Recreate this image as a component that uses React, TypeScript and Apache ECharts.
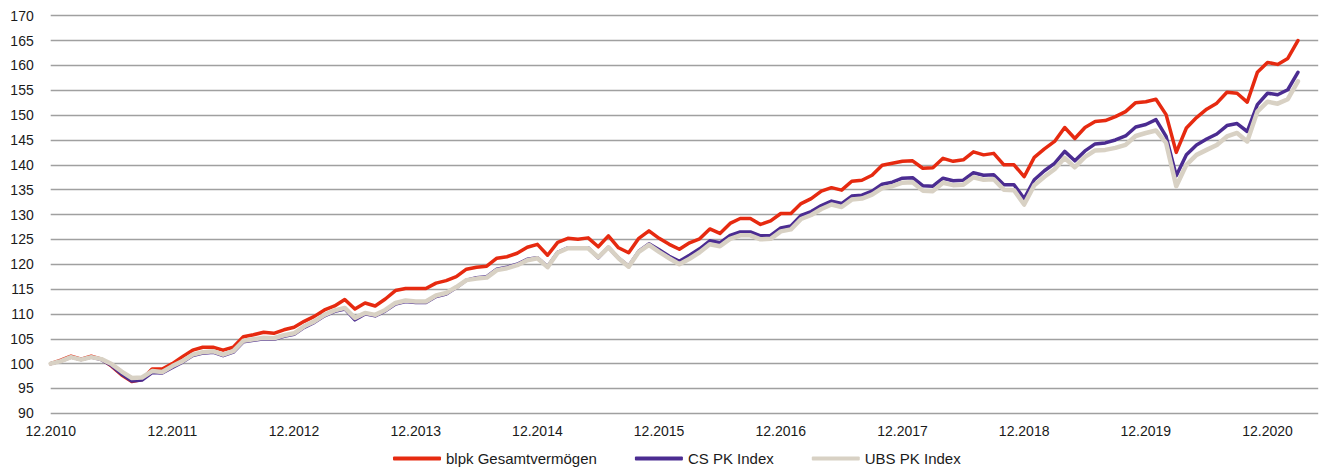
import React, { useEffect, useRef } from "react";
import * as echarts from "echarts";

const seriesNames = ["blpk Gesamtvermögen", "CS PK Index", "UBS PK Index"];
const seriesColors = ["#E62A10", "#4B2C91", "#D8D1C4"];

const blpk = [
  100, 100.7, 101.5, 100.9, 101.5, 100.9, 99.5, 97.7, 96.4, 96.8, 98.9, 98.9,
  100.0, 101.4, 102.7, 103.3, 103.3, 102.7, 103.3, 105.4, 105.8, 106.3, 106.1, 106.8,
  107.3, 108.5, 109.5, 110.8, 111.6, 112.9, 111.0, 112.2, 111.6, 113.0, 114.7, 115.1,
  115.1, 115.1, 116.2, 116.7, 117.5, 119.0, 119.4, 119.6, 121.2, 121.5, 122.2, 123.4,
  124.0, 121.8, 124.4, 125.2, 125.0, 125.3, 123.5, 125.7, 123.3, 122.3, 125.2, 126.7,
  125.2, 124.0, 123.0, 124.3, 125.1, 127.1, 126.2, 128.2, 129.2, 129.2, 128.0, 128.7,
  130.2, 130.2, 132.2, 133.2, 134.7, 135.4, 134.9, 136.7, 136.9, 137.9, 139.9, 140.3,
  140.7, 140.8, 139.3, 139.4, 141.3, 140.7, 141.0, 142.6, 142.0, 142.3, 140.0, 140.0,
  137.6, 141.5, 143.2, 144.7, 147.5, 145.3, 147.5, 148.7, 148.9, 149.7, 150.7, 152.5,
  152.7, 153.2, 150.1, 142.5, 147.4, 149.5, 151.2, 152.4, 154.6, 154.4, 152.6, 158.6,
  160.6, 160.2, 161.4, 165.0,
];

const csPk = [
  100, 100.5, 101.3, 100.8, 101.3, 100.8, 99.6, 97.9, 96.5, 96.7, 98.2, 98.1,
  99.2, 100.3, 101.6, 102.1, 102.3, 101.6, 102.3, 104.4, 104.7, 105.0, 104.9, 105.5,
  105.9, 107.3, 108.3, 109.6, 110.5, 111.0, 108.8, 110.0, 109.6, 110.6, 112.0, 112.5,
  112.3, 112.3, 113.5, 114.0, 115.3, 116.8, 117.3, 117.5, 119.0, 119.4, 120.0, 121.0,
  121.3, 119.5, 122.4, 123.3, 123.3, 123.3, 121.3, 123.4, 121.2, 119.6, 122.6, 124.1,
  122.9, 121.6, 120.6, 121.8, 123.1, 124.7, 124.3, 125.8, 126.5, 126.5, 125.7, 125.8,
  127.3, 127.7, 129.8, 130.6, 131.8, 132.7, 132.2, 133.7, 133.9, 134.7, 136.1, 136.5,
  137.3, 137.4, 135.8, 135.7, 137.3, 136.8, 136.9, 138.4, 137.9, 138.0, 136.0, 136.0,
  133.2, 137.0, 138.8, 140.3, 142.7, 140.8, 142.8, 144.2, 144.4, 145.0, 145.8, 147.6,
  148.1, 149.1, 145.7, 137.8, 142.0, 144.0, 145.2, 146.2, 147.9, 148.3, 146.7, 152.1,
  154.4, 154.1, 155.1, 158.6,
];

const ubsPk = [
  100, 100.5, 101.3, 100.8, 101.3, 100.9, 99.9, 98.4, 97.1, 97.2, 98.5, 98.3,
  99.5, 100.5, 101.8, 102.3, 102.5, 101.8, 102.5, 104.6, 104.9, 105.2, 105.1, 105.7,
  106.1, 107.5, 108.5, 109.8, 110.7, 111.2, 109.2, 110.2, 109.8, 110.8, 112.2, 112.7,
  112.5, 112.5, 113.7, 114.2, 115.4, 116.8, 117.1, 117.3, 118.8, 119.2, 119.8, 120.8,
  121.2, 119.4, 122.3, 123.2, 123.2, 123.2, 121.4, 123.4, 121.2, 119.5, 122.5, 123.9,
  122.5, 121.2, 120.0, 121.1, 122.4, 124.0, 123.6, 125.1, 125.8, 125.8, 125.0, 125.1,
  126.6, 127.0, 129.1, 129.9, 131.1, 132.0, 131.5, 133.0, 133.2, 134.0, 135.3, 135.7,
  136.4, 136.5, 134.8, 134.7, 136.4, 135.9, 136.0, 137.5, 137.0, 137.1, 135.0, 134.9,
  132.0, 135.9, 137.6, 139.1, 141.4, 139.5, 141.6, 142.9, 143.0, 143.4, 144.0, 145.8,
  146.4, 146.9, 144.4, 135.7, 140.0, 142.0, 143.0, 144.0, 145.7, 146.4, 144.7, 150.7,
  152.7, 152.3, 153.2, 156.8,
];

// Monthly categories from 12.2010 to 05.2021 (last two months empty, axis room)
const startYear = 2010;
const startMonth = 12;
const categoryCount = 126;
const months: string[] = [];
for (let k = 0; k < categoryCount; k++) {
  const m0 = startMonth - 1 + k;
  const y = startYear + Math.floor(m0 / 12);
  const m = (m0 % 12) + 1;
  months.push((m < 10 ? "0" : "") + m + "." + y);
}

const yMin = 90;
const yMax = 170;
const yStep = 5;

const FONT = "'Liberation Sans', Arial, sans-serif";

export default function App() {
  const ref = useRef<HTMLDivElement>(null);
  useEffect(() => {
    if (!ref.current) return;
    const chart = echarts.init(ref.current, null, { renderer: "svg" });
    const data = [blpk, csPk, ubsPk];
    const widths = [3.5, 3.5, 4.5];
    chart.setOption({
      animation: false,
      textStyle: { fontFamily: FONT },
      grid: { left: 50.7, top: 15.7, width: 1267.5, height: 397.6, containLabel: false },
      legend: {
        left: 393,
        top: 451,
        padding: 0,
        itemWidth: 48,
        itemHeight: 4,
        itemGap: 38,
        icon: "roundRect",
        textStyle: { fontFamily: FONT, fontSize: 15, color: "#1a1a1a" },
        data: seriesNames,
      },
      xAxis: {
        type: "category",
        data: months,
        boundaryGap: false,
        axisLine: { show: false },
        axisTick: { show: false },
        splitLine: { show: false },
        axisLabel: {
          interval: 11,
          margin: 11,
          fontFamily: FONT,
          fontSize: 14,
          color: "#1a1a1a",
        },
      },
      yAxis: {
        type: "value",
        min: yMin,
        max: yMax,
        interval: yStep,
        axisLine: { show: false },
        axisTick: { show: false },
        axisLabel: { margin: 17, fontFamily: FONT, fontSize: 14, color: "#1a1a1a" },
        splitLine: { lineStyle: { color: "#a0a0a0", width: 1.3 } },
      },
      series: seriesNames.map((name, idx) => ({
        name,
        type: "line",
        data: data[idx],
        symbol: "none",
        smooth: false,
        color: seriesColors[idx],
        lineStyle: { color: seriesColors[idx], width: widths[idx], cap: "round", join: "round" },
        itemStyle: { color: seriesColors[idx] },
        z: 2 + idx,
      })),
    });
    return () => chart.dispose();
  }, []);
  return (
    <div
      ref={ref}
      style={{ position: "absolute", left: 0, top: 0, width: 1322, height: 468, background: "#fff" }}
    />
  );
}
